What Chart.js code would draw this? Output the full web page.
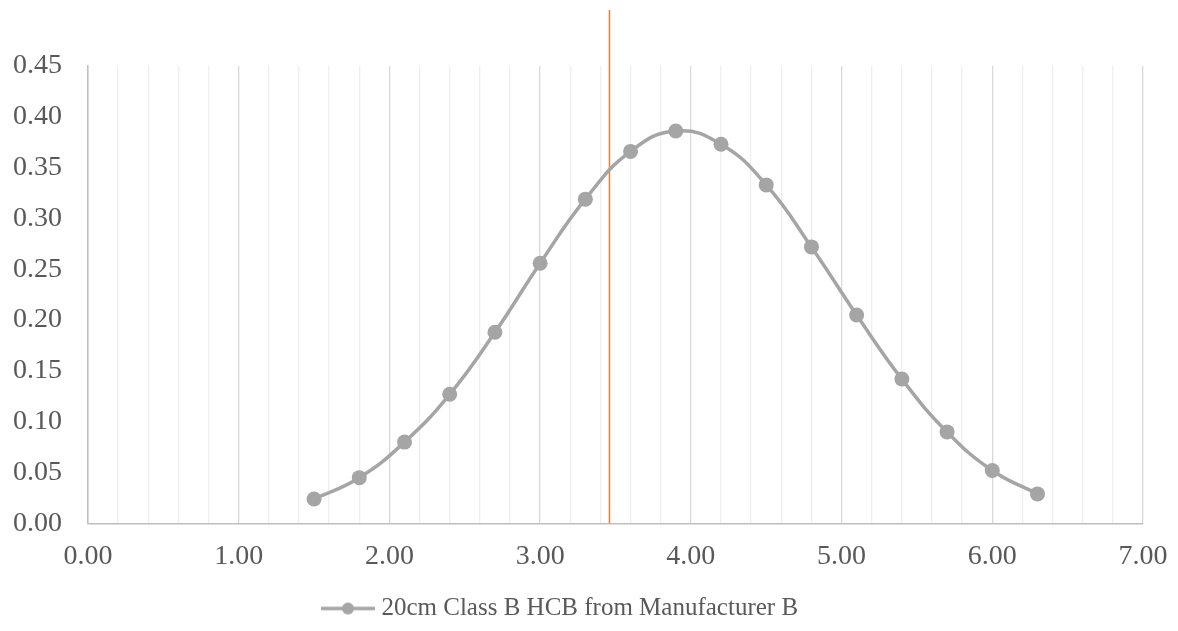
<!DOCTYPE html>
<html>
<head>
<meta charset="utf-8">
<script src="https://cdn.jsdelivr.net/npm/chart.js@4"></script>
<style>
  html, body { margin: 0; padding: 0; background: #fff; }
  #wrap { width: 1178px; height: 631px; }
</style>
</head>
<body>
<div id="wrap"><canvas id="curveChart"></canvas></div>
<script>
// data
const xValues = [1.5, 1.8, 2.1, 2.4, 2.7, 3.0, 3.3, 3.6, 3.9, 4.2, 4.5, 4.8, 5.1, 5.4, 5.7, 6.0, 6.3];
const yValues = [0.024, 0.045, 0.080, 0.127, 0.188, 0.256, 0.319, 0.366, 0.386, 0.373, 0.333, 0.272, 0.205, 0.142, 0.090, 0.052, 0.029];
const seriesName = '20cm Class B HCB from Manufacturer B';
const markerX = [3.46, 3.46];
const markerY = [0, 0.505];

const GREY = '#a5a5a5';
const TEXT = '#595959';

const points = xValues.map((x, i) => ({ x: x, y: yValues[i] }));
const markerPts = markerX.map((x, i) => ({ x: x, y: markerY[i] }));

// legend symbol: line with a dot in the middle
const legendIcon = document.createElement('canvas');
legendIcon.width = 58;
legendIcon.height = 14;
(() => {
    const c = legendIcon.getContext('2d');
    c.strokeStyle = GREY;
    c.lineWidth = 3.5;
    c.beginPath();
    c.moveTo(4, 7);
    c.lineTo(58, 7);
    c.stroke();
    c.fillStyle = GREY;
    c.beginPath();
    c.arc(31, 7, 6, 0, Math.PI * 2);
    c.fill();
})();

const isWhole = v => Math.abs(v - Math.round(v)) < 1e-6;

// legend sits a bit left of centre in the original
const legendShift = {
    id: 'legendShift',
    beforeDraw: chart => {
        chart.legend.left -= 22;
        chart.legend.right -= 22;
    }
};

const ctx = document.querySelector('#curveChart').getContext('2d');
new Chart(ctx, {
    type: 'scatter',
    data: {
        datasets: [{
            label: seriesName,
            data: points,
            showLine: true,
            borderColor: GREY,
            backgroundColor: GREY,
            borderWidth: 3.5,
            tension: 0.45,
            pointRadius: 7.5,
            pointHoverRadius: 7.5,
            pointBorderWidth: 0,
            pointBackgroundColor: GREY,
        }, {
            label: 'marker',
            data: markerPts,
            showLine: true,
            borderColor: '#ed7d31',
            borderWidth: 1.5,
            pointRadius: 0,
            clip: false,
        }]
    },
    options: {
        responsive: true,
        maintainAspectRatio: false,
        animation: false,
        layout: { padding: { left: -13, right: 0, top: 66, bottom: 0 } },
        scales: {
            x: {
                type: 'linear',
                min: 0,
                max: 7,
                afterFit: s => { s.paddingRight = 35; },
                grid: {
                    drawTicks: false,
                    color: c => isWhole(c.tick.value) ? '#d9d9d9' : '#efefef',
                    lineWidth: 1.3,
                },
                border: { display: true, color: '#bfbfbf', width: 1.5 },
                ticks: {
                    stepSize: 0.2,
                    autoSkip: false,
                    maxRotation: 0,
                    minRotation: 0,
                    padding: 16,
                    color: TEXT,
                    font: { family: 'Liberation Serif', size: 28 },
                    callback: v => isWhole(v) ? v.toFixed(2) : '',
                }
            },
            y: {
                min: 0,
                max: 0.45,
                grid: { display: false, drawTicks: false },
                border: { display: true, color: '#bfbfbf', width: 1.5 },
                ticks: {
                    stepSize: 0.05,
                    padding: 26,
                    color: TEXT,
                    font: { family: 'Liberation Serif', size: 28 },
                    callback: v => v.toFixed(2),
                }
            }
        },
        plugins: {
            legend: {
                position: 'bottom',
                labels: {
                    usePointStyle: true,
                    pointStyleWidth: 46,
                    color: TEXT,
                    font: { family: 'Liberation Serif', size: 25 },
                    padding: 7,
                    filter: item => item.datasetIndex === 0,
                    generateLabels: chart => {
                        const items = Chart.defaults.plugins.legend.labels.generateLabels(chart);
                        items.forEach(it => { it.pointStyle = legendIcon; });
                        return items;
                    }
                }
            },
            tooltip: { enabled: false }
        }
    },
    plugins: [legendShift]
});
</script>
</body>
</html>
